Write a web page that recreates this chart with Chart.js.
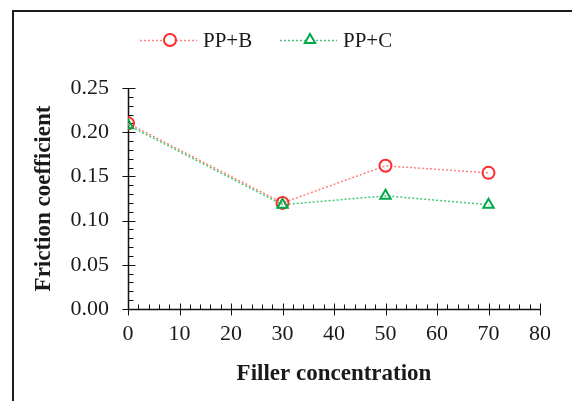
<!DOCTYPE html>
<html><head><meta charset="utf-8">
<script src="https://cdn.jsdelivr.net/npm/chart.js@4.4.1/dist/chart.umd.min.js"></script>
<style>
html,body{margin:0;padding:0;background:#fff;overflow:hidden;width:572px;height:401px}
#clip{position:absolute;left:0;top:0;width:572px;height:401px;overflow:hidden}
#frame{position:absolute;left:12px;top:10px;width:700px;height:500px;border:2px solid #1c1c1c;box-sizing:border-box}
#wrap{position:absolute;left:0;top:0;width:572px;height:401px}
</style></head>
<body><div id="clip"><div id="frame"></div></div><div id="wrap"><canvas id="c" width="572" height="401"></canvas></div>
<script>
const concentrations = [0, 30, 50, 70];
const ppB = [0.210, 0.120, 0.162, 0.154];
const ppC = [0.208, 0.118, 0.128, 0.118];
const seriesNames = ['PP+B', 'PP+C'];
const xTickValues = [0, 10, 20, 30, 40, 50, 60, 70, 80];
const yTickValues = [0.00, 0.05, 0.10, 0.15, 0.20, 0.25];
const xTitle = 'Filler concentration';
const yTitle = 'Friction coefficient';

const SERIF = '"Liberation Serif", "Times New Roman", serif';

const axesPlugin = {
  id: 'axesTicks',
  beforeDatasetsDraw(chart) {
    const ctx = chart.ctx, xs = chart.scales.x, ys = chart.scales.y;
    const x0 = Math.round(xs.getPixelForValue(xTickValues[0])) + 0.5;
    const y0 = Math.round(ys.getPixelForValue(yTickValues[0])) + 0.5;
    ctx.save();
    ctx.strokeStyle = '#111';
    ctx.lineWidth = 1.5;
    ctx.beginPath();
    ctx.moveTo(x0, Math.round(ys.getPixelForValue(yTickValues[yTickValues.length-1])));
    ctx.lineTo(x0, y0);
    ctx.lineTo(Math.round(xs.getPixelForValue(xTickValues[xTickValues.length-1])) + 0.5, y0);
    ctx.stroke();
    ctx.lineWidth = 1;
    ctx.beginPath();
    const xMax = xTickValues[xTickValues.length-1];
    for (let i = 0; i <= xMax / 2; i++) {
      const v = i * 2;
      const px = Math.round(xs.getPixelForValue(v)) + 0.5;
      const major = (v % 10 === 0);
      ctx.moveTo(px, y0 + (major ? 6 : 0));
      ctx.lineTo(px, y0 - (major ? 6 : 5));
    }
    for (let i = 0; i <= 25; i++) {
      const v = i / 100;
      const py = Math.round(ys.getPixelForValue(v)) + 0.5;
      const major = (i % 5 === 0);
      ctx.moveTo(x0 - (major ? 6 : 0), py);
      ctx.lineTo(x0 + (major ? 7 : 5), py);
    }
    ctx.stroke();
    ctx.restore();
  },
  afterDraw(chart) {
    const ctx = chart.ctx;
    const items = [
      {ds: chart.data.datasets[1], lx: 140, mx: 170, tx: 203},
      {ds: chart.data.datasets[0], lx: 280, mx: 310, tx: 343}
    ];
    const ly = 40;
    ctx.save();
    items.forEach(it => {
      const ds = it.ds;
      ctx.strokeStyle = ds.borderColor;
      ctx.lineWidth = ds.borderWidth;
      ctx.setLineDash(ds.borderDash);
      ctx.beginPath();
      ctx.moveTo(it.lx, ly + 0.5);
      ctx.lineTo(it.lx + 57, ly + 0.5);
      ctx.stroke();
      ctx.setLineDash([]);
      ctx.strokeStyle = ds.pointBorderColor;
      ctx.fillStyle = '#fff';
      ctx.lineWidth = ds.pointBorderWidth;
      Chart.helpers.drawPoint(ctx, {pointStyle: ds.pointStyle, radius: ds.pointRadius, borderWidth: ds.pointBorderWidth, rotation: 0}, it.mx, ly);
      ctx.fillStyle = '#1a1a1a';
      ctx.font = '21px ' + SERIF;
      ctx.textBaseline = 'middle';
      ctx.textAlign = 'left';
      ctx.fillText(ds.label, it.tx, ly + 1);
    });
    ctx.restore();
  }
};

new Chart(document.getElementById('c'), {
  type: 'line',
  data: {
    datasets: [
      {
        label: seriesNames[1],
        data: concentrations.map((x, i) => ({x, y: ppC[i]})),
        borderColor: '#49c779',
        borderWidth: 1.5,
        borderDash: [2, 2],
        pointStyle: 'triangle',
        pointRadius: 6,
        pointBorderWidth: 2,
        pointBorderColor: '#00a84a',
        pointBackgroundColor: 'rgba(255,255,255,0)',
        order: 0
      },
      {
        label: seriesNames[0],
        data: concentrations.map((x, i) => ({x, y: ppB[i]})),
        borderColor: '#ff8080',
        borderWidth: 1.5,
        borderDash: [2, 2],
        pointStyle: 'circle',
        pointRadius: 6,
        pointBorderWidth: 2,
        pointBorderColor: '#ff2a2a',
        pointBackgroundColor: 'rgba(255,255,255,0)',
        order: 1
      }
    ]
  },
  options: {
    responsive: false,
    devicePixelRatio: 1,
    animation: false,
    layout: {padding: {left: 0, right: 32, top: 88, bottom: 0}},
    plugins: {legend: {display: false}, tooltip: {enabled: false}},
    scales: {
      x: {
        type: 'linear', min: 0, max: 80,
        afterBuildTicks: s => { s.ticks = xTickValues.map(v => ({value: v})); },
        afterFit: s => { s.height = 92; },
        grid: {display: false, drawTicks: false},
        border: {display: false},
        ticks: {color: '#1a1a1a', font: {family: SERIF, size: 22}, padding: 12, maxRotation: 0, autoSkip: false},
        title: {display: true, text: xTitle, color: '#1a1a1a', font: {family: SERIF, size: 23, weight: 'bold'}, padding: {top: 0, bottom: 13}}
      },
      y: {
        type: 'linear', min: 0, max: 0.25,
        afterBuildTicks: s => { s.ticks = yTickValues.map(v => ({value: v})); },
        afterFit: s => { s.width = 128; },
        grid: {display: false, drawTicks: false},
        border: {display: false},
        ticks: {color: '#1a1a1a', font: {family: SERIF, size: 22}, padding: 19, autoSkip: false, callback: v => v.toFixed(2)},
        title: {display: true, text: yTitle, color: '#1a1a1a', font: {family: SERIF, size: 23, weight: 'bold'}, padding: {top: 30, bottom: 0}}
      }
    }
  },
  plugins: [axesPlugin]
});
</script>
</body></html>
